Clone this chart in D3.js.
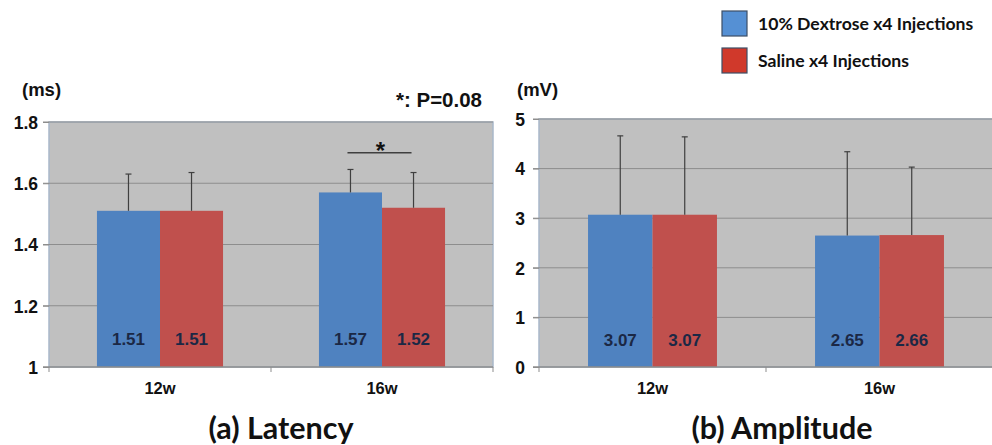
<!DOCTYPE html>
<html><head><meta charset="utf-8">
<script src="https://cdn.jsdelivr.net/npm/d3@7"></script>
<style>body{margin:0;background:#fff} svg{display:block}</style>
</head><body>
<svg id="c" width="992" height="445"></svg>
<script>
// ---- data ----
const categories = ["12w", "16w"];
const seriesNames = ["10% Dextrose x4 Injections", "Saline x4 Injections"];
const latencyDextrose = [1.51, 1.57];
const latencySaline = [1.51, 1.52];
const latencyDextroseSD = [0.12, 0.075];
const latencySalineSD = [0.125, 0.115];
const latencyTicks = [1, 1.2, 1.4, 1.6, 1.8];
const amplitudeDextrose = [3.07, 2.65];
const amplitudeSaline = [3.07, 2.66];
const amplitudeDextroseSD = [1.59, 1.69];
const amplitudeSalineSD = [1.57, 1.37];
const amplitudeTicks = [0, 1, 2, 3, 4, 5];
const significanceLevel = 1.70;

const barColors = ["#4f82c0", "#c0504d"];
const legendColors = ["#5590d4", "#d0392b"];
const svg = d3.select("#c");
const ARIAL = "'Liberation Sans', Arial, sans-serif";
const CAL = "Lato, 'Open Sans', sans-serif";

function panel(cfg) {
  const g = svg.append("g");
  const x = d3.scaleBand().domain(categories).range([cfg.x0, cfg.x1])
    .paddingInner(0.432).paddingOuter(0.216);
  const xs = d3.scaleBand().domain([0, 1]).range([0, x.bandwidth()]);
  const y = d3.scaleLinear().domain(cfg.domain).range([cfg.yb, cfg.yt]);

  g.append("rect").attr("x", cfg.x0).attr("y", y(cfg.domain[1]))
    .attr("width", cfg.x1 - cfg.x0).attr("height", y(cfg.domain[0]) - y(cfg.domain[1]))
    .attr("fill", "#c0c0c0").attr("stroke", "#a9b8ca").attr("stroke-width", 1.5);

  g.selectAll(".grid").data(cfg.ticks.slice(1)).enter().append("line")
    .attr("x1", cfg.x0 - 6).attr("x2", cfg.x1)
    .attr("y1", d => y(d)).attr("y2", d => y(d))
    .attr("stroke", "#8d8d8d").attr("stroke-width", 1);

  const ya = g.append("g").attr("transform", `translate(${cfg.x0},0)`)
    .call(d3.axisLeft(y).tickValues(cfg.ticks).tickSize(6).tickPadding(cfg.tickPad)
      .tickFormat(d3.format("")));
  ya.select(".domain").remove();
  ya.selectAll("line").attr("stroke", "#8d8d8d");
  ya.selectAll("text").attr("font-family", ARIAL).attr("font-weight", "bold")
    .attr("font-size", 17.5).attr("fill", "#111").attr("dy", "0.36em");

  const groups = categories.map((c, i) => ({
    c, vals: [cfg.s1[i], cfg.s2[i]], sds: [cfg.sd1[i], cfg.sd2[i]]
  }));
  const flat = [];
  groups.forEach(gr => gr.vals.forEach((v, j) => flat.push({c: gr.c, j, v, sd: gr.sds[j]})));

  g.selectAll(".bar").data(flat).enter().append("rect")
    .attr("x", d => x(d.c) + xs(d.j)).attr("width", xs.bandwidth())
    .attr("y", d => y(d.v)).attr("height", d => y(cfg.domain[0]) - y(d.v))
    .attr("fill", d => barColors[d.j]);

  const eb = g.selectAll(".eb").data(flat).enter().append("g");
  const cx = d => x(d.c) + xs(d.j) + xs.bandwidth() / 2;
  eb.append("line").attr("x1", cx).attr("x2", cx)
    .attr("y1", d => y(d.v)).attr("y2", d => y(d.v + d.sd))
    .attr("stroke", "#3f3f3f").attr("stroke-width", 1.2);
  eb.append("line").attr("x1", d => cx(d) - 3).attr("x2", d => cx(d) + 3)
    .attr("y1", d => y(d.v + d.sd)).attr("y2", d => y(d.v + d.sd))
    .attr("stroke", "#3f3f3f").attr("stroke-width", 1.2);

  g.selectAll(".vl").data(flat).enter().append("text")
    .attr("x", cx).attr("y", cfg.labelY).attr("text-anchor", "middle")
    .attr("font-family", ARIAL).attr("font-weight", "bold").attr("font-size", 17)
    .attr("fill", "#1b2845").text(d => d.v.toFixed(2));

  g.append("line").attr("x1", cfg.x0 - 6).attr("x2", cfg.x1)
    .attr("y1", y(cfg.domain[0])).attr("y2", y(cfg.domain[0]))
    .attr("stroke", "#8d8d8d").attr("stroke-width", 1.5);
  const bounds = [cfg.x0, (cfg.x0 + cfg.x1) / 2, cfg.x1];
  g.selectAll(".xt").data(bounds).enter().append("line")
    .attr("x1", d => d).attr("x2", d => d)
    .attr("y1", y(cfg.domain[0])).attr("y2", y(cfg.domain[0]) + 5)
    .attr("stroke", "#8d8d8d");
  const xa = g.append("g").attr("transform", `translate(0,${y(cfg.domain[0])})`)
    .call(d3.axisBottom(x).tickSize(0).tickPadding(15));
  xa.select(".domain").remove();
  xa.selectAll("text").attr("font-family", ARIAL).attr("font-weight", "bold")
    .attr("font-size", 16.5).attr("fill", "#111");

  g.append("text").attr("x", cfg.unitX).attr("y", 96)
    .attr("font-family", ARIAL).attr("font-weight", "bold").attr("font-size", 18.5)
    .attr("fill", "#111").text(cfg.unit);

  g.append("text").attr("x", cfg.titleX).attr("y", 439).attr("text-anchor", "middle")
    .attr("font-family", CAL).attr("font-weight", "bold").attr("font-size", 30.5)
    .attr("fill", "#111").text(cfg.title);

  return {x, xs, y, g};
}

const left = panel({
  x0: 49, x1: 493, yt: 122, yb: 367, domain: [1, 1.8], ticks: latencyTicks,
  s1: latencyDextrose, s2: latencySaline, sd1: latencyDextroseSD, sd2: latencySalineSD,
  tickPad: 5, labelY: 345, unit: "(ms)", unitX: 22, title: "(a) Latency", titleX: 281
});
panel({
  x0: 539, x1: 993, yt: 119, yb: 367, domain: [0, 5], ticks: amplitudeTicks,
  s1: amplitudeDextrose, s2: amplitudeSaline, sd1: amplitudeDextroseSD, sd2: amplitudeSalineSD,
  tickPad: 8, labelY: 346, unit: "(mV)", unitX: 517, title: "(b) Amplitude", titleX: 782
});

// significance bracket
{
  const {x, xs, y, g} = left;
  const c = categories[1];
  const xa = x(c) + xs(0) + xs.bandwidth() / 2 - 3;
  const xb = x(c) + xs(1) + xs.bandwidth() / 2 - 2;
  g.append("line").attr("x1", xa).attr("x2", xb)
    .attr("y1", y(significanceLevel)).attr("y2", y(significanceLevel))
    .attr("stroke", "#3f3f3f").attr("stroke-width", 1.5);
  g.append("text").attr("x", (xa + xb) / 2 + 1).attr("y", y(significanceLevel) + 6)
    .attr("text-anchor", "middle").attr("font-family", ARIAL).attr("font-weight", "bold")
    .attr("font-size", 24).attr("fill", "#111").text("*");
  g.append("text").attr("x", 482).attr("y", 107).attr("text-anchor", "end")
    .attr("font-family", ARIAL).attr("font-weight", "bold").attr("font-size", 20.5)
    .attr("fill", "#111").text("*: P=0.08");
}

// legend
const lg = svg.append("g").attr("transform", "translate(722,11)");
seriesNames.forEach((n, i) => {
  lg.append("rect").attr("x", 0).attr("y", i * 37).attr("width", 25).attr("height", 25)
    .attr("fill", legendColors[i]).attr("stroke", "#3d4f66").attr("stroke-width", 1.2);
  lg.append("text").attr("x", 36).attr("y", i * 37 + 19)
    .attr("font-family", CAL).attr("font-weight", "bold").attr("font-size", 17.6)
    .attr("fill", "#111").text(n);
});
</script>
</body></html>
